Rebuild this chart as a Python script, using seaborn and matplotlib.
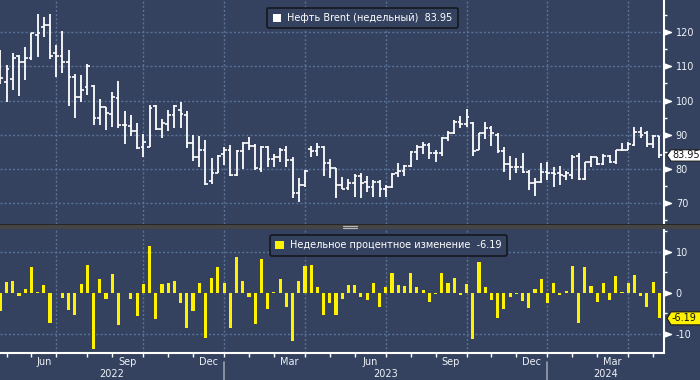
import numpy as np
import pandas as pd
import matplotlib.pyplot as plt
import seaborn as sns
from matplotlib.path import Path
from matplotlib.patches import Polygon, Rectangle
from matplotlib.lines import Line2D

# weekly Brent bars
opens = [105.6, 105.4, 106.2, 112.9, 111.4, 112.4, 119.2, 121.5, 122.1, 113.9,
         112.9, 111.4, 106.8, 101.0, 103.9, 104.3, 94.8, 98.0, 96.1, 100.7,
         92.8, 92.6, 91.2, 86.5, 86.3, 98.4, 91.6, 93.2, 95.8, 97.3,
         95.8, 87.5, 83.4, 85.4, 76.6, 78.9, 84.4, 85.6, 78.2, 85.1,
         87.5, 86.7, 79.9, 86.5, 82.8, 83.4, 85.6, 82.6, 73.1, 75.3,
         85.9, 85.1, 86.5, 81.7, 80.2, 75.3, 74.3, 75.8, 77.8, 76.3,
         74.8, 76.3, 74.0, 74.8, 78.7, 79.5, 81.0, 84.9, 86.5, 87.0,
         84.8, 84.8, 89.0, 90.6, 93.6, 93.2, 93.4, 85.6, 90.6, 92.0,
         90.0, 85.1, 81.5, 80.7, 80.7, 79.2, 75.8, 76.3, 79.2, 78.7,
         78.7, 78.0, 78.2, 83.8, 77.1, 81.9, 83.4, 81.5, 83.8, 81.9,
         85.4, 85.6, 87.0, 90.9, 90.4, 87.3, 89.5]
highs = [114.8, 110.4, 114.0, 113.4, 115.6, 119.7, 125.4, 124.4, 125.4, 116.3,
         120.4, 114.8, 107.8, 107.5, 110.7, 104.6, 100.5, 98.2, 102.6, 105.6,
         97.0, 95.8, 93.4, 90.2, 98.7, 98.7, 94.6, 97.3, 98.7, 99.7,
         97.0, 90.0, 89.5, 88.5, 83.1, 84.1, 86.5, 87.0, 85.6, 88.0,
         89.2, 87.2, 86.7, 86.7, 84.4, 86.0, 86.7, 83.6, 77.3, 79.7,
         86.7, 87.7, 86.6, 82.8, 80.3, 77.5, 77.0, 78.5, 78.7, 78.0,
         76.8, 76.8, 75.3, 78.7, 81.7, 81.2, 85.1, 87.0, 88.0, 87.5,
         85.6, 89.3, 91.1, 94.3, 95.5, 97.6, 93.6, 90.4, 93.6, 92.6,
         90.4, 86.5, 83.8, 83.1, 84.6, 79.7, 77.3, 81.7, 81.9, 80.7,
         80.9, 79.5, 84.1, 84.6, 82.1, 83.8, 83.6, 84.4, 84.1, 85.6,
         87.7, 88.0, 92.2, 92.4, 91.1, 90.0, 89.7]
lows = [104.9, 99.7, 103.1, 101.4, 105.9, 111.9, 112.7, 118.7, 112.1, 107.0,
        108.2, 98.4, 94.8, 99.7, 101.7, 92.9, 92.9, 91.4, 92.4, 91.9,
        87.3, 89.5, 85.8, 83.6, 86.3, 91.4, 89.0, 91.2, 91.9, 91.9,
        86.0, 82.4, 80.7, 75.3, 75.6, 78.7, 81.2, 78.0, 78.0, 79.9,
        85.6, 79.7, 79.2, 80.7, 80.7, 82.0, 80.7, 71.4, 70.2, 74.8,
        83.6, 83.8, 77.8, 77.3, 71.4, 74.0, 73.7, 71.9, 71.4, 73.4,
        71.9, 71.7, 71.9, 74.5, 77.5, 78.0, 80.7, 82.6, 84.3, 82.8,
        81.9, 83.8, 88.3, 90.1, 92.0, 92.4, 83.8, 85.4, 88.7, 86.7,
        84.6, 79.2, 76.8, 78.7, 78.7, 73.7, 72.1, 75.8, 76.8, 74.8,
        75.3, 76.8, 77.0, 76.8, 76.8, 80.7, 81.2, 81.2, 81.7, 81.5,
        85.1, 85.4, 86.7, 89.0, 86.5, 86.0, 83.1]
closes = [106.5, 109.2, 112.4, 111.4, 112.4, 119.7, 119.7, 122.1, 112.9, 112.9,
          111.4, 106.8, 101.0, 103.1, 110.1, 94.8, 98.0, 96.5, 101.0, 92.8,
          92.8, 91.2, 86.0, 87.8, 97.8, 91.6, 93.4, 95.8, 98.4, 96.0,
          87.5, 83.4, 85.4, 75.6, 78.9, 83.9, 85.6, 78.2, 85.1, 87.7,
          86.7, 80.2, 86.5, 82.8, 83.4, 85.6, 82.6, 73.1, 75.3, 79.5,
          85.1, 86.5, 81.7, 80.2, 75.3, 74.0, 76.0, 78.0, 76.0, 74.8,
          76.3, 74.0, 74.8, 78.5, 79.4, 81.0, 84.9, 86.5, 87.0, 84.8,
          84.6, 89.0, 90.6, 93.6, 93.2, 95.1, 85.1, 90.6, 92.0, 90.4,
          85.1, 81.5, 80.7, 80.5, 79.2, 75.8, 76.3, 79.2, 78.7, 78.5,
          78.2, 78.7, 83.6, 77.1, 81.9, 83.4, 81.4, 83.8, 81.9, 85.4,
          85.6, 87.2, 90.9, 90.0, 87.3, 89.5, 83.95]

# weekly % change (lower panel)
pct = [-4.4, 2.6, 2.8, -0.8, 0.9, 6.3, 0.2, 1.9, -7.3, -0.1,
       -1.2, -4.2, -5.4, 2.1, 6.7, -13.7, 3.3, -1.5, 4.6, -7.9,
       -0.1, -1.5, -5.6, 2.1, 11.4, -6.4, 2.1, 2.4, 2.8, -2.4,
       -8.5, -4.4, 2.4, -11.0, 3.7, 6.3, 2.4, -8.5, 8.8, 2.8,
       -1.0, -7.6, 8.2, -4.0, 0.2, 3.3, -3.4, -11.7, 2.8, 6.6,
       6.7, 1.5, -5.4, -2.4, -5.4, -1.5, 1.9, 1.9, -1.0, -1.8,
       2.4, -3.4, 1.4, 4.9, 1.9, 1.6, 4.9, 1.5, 0.7, -2.2,
       -0.2, 4.9, 2.4, 3.7, -0.5, 2.1, -11.1, 7.5, 1.5, -1.8,
       -6.1, -4.0, -1.0, -0.2, -2.0, -3.7, 0.9, 3.3, -2.4, 2.4,
       -0.4, 0.5, 6.6, -7.3, 6.3, 1.7, -2.2, 2.4, -1.8, 4.1,
       0.2, 2.4, 4.3, -0.8, -3.4, 2.6, -6.19]

price_ticks = [70, 80, 90, 100, 110, 120]
pct_ticks = [-10, 0, 10]

df = pd.DataFrame({'bar': np.arange(len(closes)),
                   'date': pd.date_range('2022-04-29', periods=len(closes), freq='7D'),
                   'open': opens, 'high': highs, 'low': lows, 'close': closes, 'pct': pct})

bg = '#34425f'
grid_c = '#5a7198'
txt = '#eef2f7'
yellow = '#fff200'

sns.set_style('dark', {'axes.facecolor': bg, 'figure.facecolor': bg})
plt.rcParams['font.family'] = ['DejaVu Sans']

W, H = 700, 380
fig = plt.figure(figsize=(7, 3.8), dpi=100, facecolor=bg)


def box(l, t, r, b):
    return [l / W, 1 - b / H, (r - l) / W, (b - t) / H]


ax1 = fig.add_axes(box(0, 0, 664, 224))
ax2 = fig.add_axes(box(0, 229, 664, 353))
xmin, xmax = -0.05, 106.75

# month / quarter / year positions from the bar dates
new_month = df['date'].dt.month != df['date'].dt.month.shift()
new_month.iloc[0] = False
month_starts = df.loc[new_month, 'bar'].tolist()
quarter_starts = df.loc[new_month & df['date'].dt.month.isin([1, 4, 7, 10]), 'bar'].tolist()
year_starts = df.loc[new_month & (df['date'].dt.month == 1), 'bar'].tolist()

# --- top panel: OHLC bars
ax1.vlines(df['bar'], df['low'], df['high'], color='white', lw=1.3)
ax1.hlines(df['open'], df['bar'] - 0.45, df['bar'], color='white', lw=1.2)
ax1.hlines(df['close'], df['bar'], df['bar'] + 0.45, color='white', lw=1.2)
ax1.set_ylim(63.9, 129.4)

# --- bottom panel: weekly % change
sns.barplot(data=df, x='bar', y='pct', native_scale=True, color=yellow, saturation=1,
            width=0.5, linewidth=0, errorbar=None, ax=ax2)
ax2.set_ylim(-14.6, 15.5)

tri = Path([(0, -2.6), (7, 0), (0, 2.6), (0, -2.6)])
for ax, ticks, grid_levels, minor in [(ax1, price_ticks, price_ticks, np.arange(65, 130, 10)),
                                      (ax2, pct_ticks, [-10, 10], [-5, 5, 15])]:
    ax.set_xlim(xmin, xmax)
    for q in quarter_starts:
        ax.axvline(q, color=grid_c, lw=1, ls=(0, (1.5, 1.5)), zorder=0)
    for g in grid_levels:
        ax.axhline(g, color=grid_c, lw=1, ls=(0, (1.5, 1.5)), zorder=0)
    ax.yaxis.tick_right()
    ax.set_yticks(ticks)
    ax.set_yticklabels([str(t) for t in ticks])
    ax.set_yticks(minor, minor=True)
    ax.tick_params(axis='y', which='major', length=0, pad=8.5, labelsize=7, labelcolor=txt,
                   right=True, left=False)
    ax.tick_params(axis='y', which='minor', length=2.5, width=1, color='white',
                   right=True, left=False)
    ax.plot(np.ones(len(ticks)), ticks, ls='', marker=tri, ms=10, color='white',
            transform=ax.get_yaxis_transform(), clip_on=False)
    ax.grid(False)
    for s in ['left', 'top', 'bottom']:
        ax.spines[s].set_visible(False)
    ax.spines['right'].set_color('white')
    ax.spines['right'].set_linewidth(1.5)
    ax.set_xlabel('')
    ax.set_ylabel('')

ax1.set_xticks([])
ax2.spines['bottom'].set_visible(True)
ax2.spines['bottom'].set_color('white')
ax2.spines['bottom'].set_linewidth(1.5)
ax2.set_xticks(month_starts)
ax2.set_xticklabels([''] * len(month_starts))
ax2.tick_params(axis='x', length=3, width=1, color='white', direction='out', bottom=True)

# month labels (quarter-end months) and year labels
edges = month_starts + [xmax]
for a, b in zip(edges[:-1], edges[1:]):
    d = df.loc[df['bar'] == a, 'date'].iloc[0]
    if d.month in (3, 6, 9, 12):
        ax2.annotate(d.strftime('%b'), xy=((a + b) / 2, 0), xycoords=('data', 'axes fraction'),
                     xytext=(0, -9), textcoords='offset pixels', ha='center', va='center',
                     fontsize=7, color=txt)
yedges = [xmin] + year_starts + [xmax]
for i, (a, b) in enumerate(zip(yedges[:-1], yedges[1:])):
    yr = df.loc[df['bar'] >= max(a, 0), 'date'].iloc[0].year
    ax2.annotate(str(yr), xy=((a + b) / 2, 0), xycoords=('data', 'axes fraction'),
                 xytext=(0, -21), textcoords='offset pixels', ha='center', va='center',
                 fontsize=7, color=txt)
for y0 in year_starts:
    ax2.plot([y0, y0], [-9 / 124, -27 / 124], color='#9aa0aa', lw=1.2,
             transform=ax2.get_xaxis_transform(), clip_on=False)

# legends
for ax, col, label, anchor in [
        (ax1, 'white', f"Нефть Brent (недельный)  {closes[-1]:.2f}", (0.546, 0.988)),
        (ax2, yellow, f"Недельное процентное изменение  {pct[-1]:.2f}", (0.585, 0.992))]:
    leg = ax.legend([Rectangle((0, 0), 1, 1, facecolor=col, edgecolor='none')], [label],
                    loc='upper center', bbox_to_anchor=anchor, fontsize=7, labelcolor='white',
                    frameon=True, fancybox=True, facecolor=bg, edgecolor='#14171d', framealpha=1,
                    handlelength=0.9, handleheight=0.9, handletextpad=0.6, borderpad=0.55)
    leg.get_frame().set_linewidth(1.2)

# last value tags on the right axis
for ax, val, col, ppu, hh in [(ax1, closes[-1], 'white', 224 / (129.4 - 63.9), 5.7),
                              (ax2, pct[-1], yellow, 124 / 30.1, 6.5)]:
    dy = hh / ppu
    f = 1 / 664
    pts = [(1 + 3 * f, val), (1 + 7 * f, val + dy), (1 + 40 * f, val + dy),
           (1 + 40 * f, val - dy), (1 + 7 * f, val - dy)]
    ax.add_patch(Polygon(pts, closed=True, facecolor=col, edgecolor='#1a1a1a', lw=0.8,
                         transform=ax.get_yaxis_transform(), clip_on=False, zorder=6))
    ax.text(1 + 8 * f, val, f"{val:.2f}", transform=ax.get_yaxis_transform(), ha='left',
            va='center', fontsize=7, color='#111111', zorder=7, clip_on=False)

# panel separator
fig.add_artist(Rectangle((0, 1 - 229 / H), 1, 5 / H, transform=fig.transFigure,
                         facecolor='#454545', edgecolor='none', zorder=10))
fig.add_artist(Rectangle((0, 1 - 225 / H), 1, 1 / H, transform=fig.transFigure,
                         facecolor='#262626', edgecolor='none', zorder=10))
for yy in (225.8, 227.8):
    fig.add_artist(Line2D([343 / W, 357 / W], [1 - yy / H] * 2, color='#b5b5b5', lw=0.9,
                          transform=fig.transFigure, zorder=11))

fig.savefig('out.png', dpi=100, facecolor=bg)
